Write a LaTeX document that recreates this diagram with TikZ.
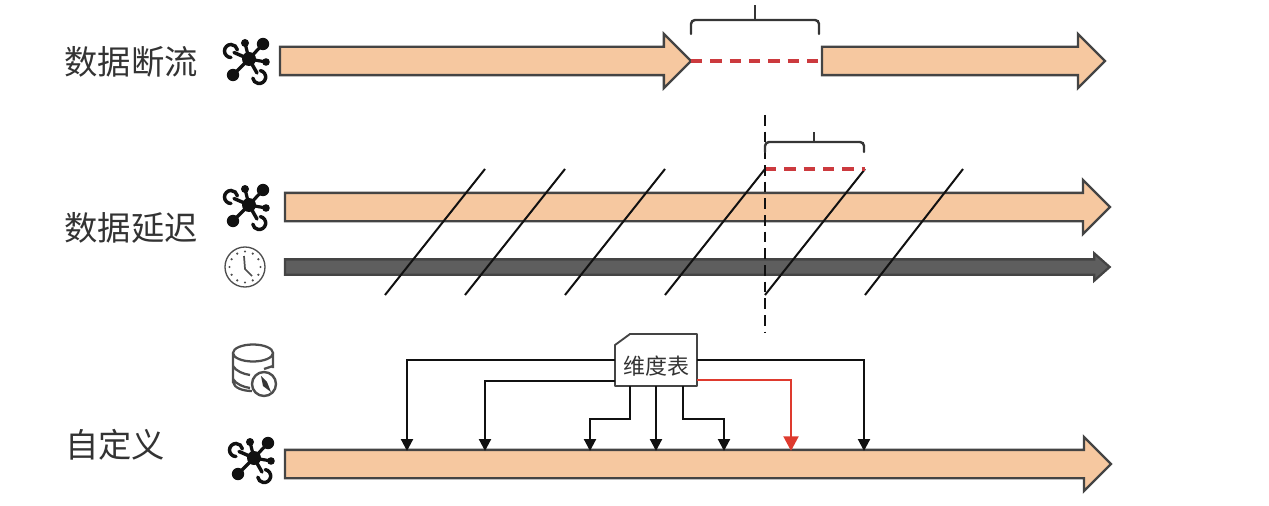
\documentclass[tikz,border=0pt]{standalone}
\usepackage{fontspec}
\newfontfamily\cjk{Noto Sans CJK SC}
\usetikzlibrary{shapes.arrows,arrows.meta,calc}
\definecolor{flowfill}{HTML}{F6C8A0}
\definecolor{flowedge}{HTML}{444444}
\definecolor{darkfill}{HTML}{5E5E5E}
\definecolor{alert}{HTML}{CC3A3E}
\definecolor{lookup}{HTML}{DE3A2E}
\definecolor{ink}{HTML}{111111}
\definecolor{labeltext}{HTML}{333333}
\definecolor{iconline}{HTML}{4E4E4E}
\tikzset{
  flow/.style={single arrow, draw=flowedge, fill=flowfill, line width=1.7pt, anchor=tail,
    inner xsep=0pt, inner ysep=9.75pt, outer sep=0pt,
    single arrow head extend=9.75pt, single arrow tip angle=90, single arrow head indent=0pt},
  clockflow/.style={flow, fill=darkfill, inner ysep=4.875pt, single arrow head extend=4.5pt,
    single arrow tip angle=83},
  rowlabel/.style={font=\cjk\fontsize{25pt}{27pt}\selectfont, text=labeltext, inner sep=0pt},
  brace/.style={draw=ink!85, line width=1.8pt, rounded corners=3pt, line cap=round},
  bracetick/.style={draw=ink!85, line width=2pt},
  gap/.style={draw=alert, line width=2.6pt, dash pattern=on 8.5pt off 6pt},
  slash/.style={draw=ink, line width=1.5pt},
  link/.style={draw=ink, line width=1.6pt, -{Triangle[width=9pt,length=9pt]}},
  redlink/.style={draw=lookup, line width=2.2pt, -{Triangle[width=11pt,length=11pt]}},
  dimbox/.style={rectangle, minimum width=61.5pt, minimum height=39pt, inner sep=0pt, outer sep=0pt,
    font=\cjk\fontsize{16.5pt}{18pt}\selectfont, text=labeltext},
  dimedge/.style={draw=flowedge, line width=1.4pt, line join=round},
  pics/hub/.style={code={
    \fill[ink] (0,0) circle (7);
    \draw[ink, line width=2.4pt]
      (0,0) -- (-4,-16) (0,0) -- (14,-15) (0,0) -- (17,3) (0,0) -- (-16,16);
    \fill[ink] (-4,-16) circle (4) (14,-15) circle (6.2) (17,3) circle (3.8) (-16,16) circle (6.2);
    \draw[ink, line width=2.6pt, line cap=round]
      (0,0) -- (-15,-6.5)
      (-18,-1.5) arc[start angle=90, end angle=350, radius=6.5]
      (0,0) -- (8,14)
      (11.3,11.6) arc[start angle=280, end angle=530, radius=6.5];
  }}
}
\begin{document}
\begin{tikzpicture}[x=0.75pt,y=-0.75pt]
\useasboundingbox (0,0) rectangle (1269,506);

% row labels
\node[rowlabel] (lbl1) at (131,62) {数据断流};
\node[rowlabel] (lbl2) at (131,228) {数据延迟};
\node[rowlabel] (lbl3) at (115,445) {自定义};

% source icons
\pic at (249,59) {hub};
\pic at (249,205) {hub};
\pic at (254,458) {hub};

% clock
\draw[iconline, line width=1pt] (245,267) circle (20);
\foreach \a in {0,30,...,330}
  \fill[iconline] (245,267) ++(\a:15.5) circle (1.2);
\draw[iconline, line width=1.3pt] (244,256) -- (245,269) -- (252,276);

% database with compass badge
\draw[iconline, line width=1.7pt]
  (253,353) ellipse [x radius=20, y radius=8.5]
  (233,353) -- (233,382) .. controls (234,388) and (243,391) .. (252,391)
  (273,353) -- (273,368)
  (233,366) .. controls (236,371) and (243,374) .. (250,375)
  (233,379) .. controls (236,384) and (243,387) .. (250,388)
  (264,369) -- (273,366);
\draw[iconline, fill=white, line width=1.8pt] (264,384) circle (12);
\fill[ink!85] (261,376) -- (267,382) -- (271,392) -- (263,386) -- cycle;

% interrupted stream
\node[flow, minimum height=308.25pt] (a1) at (280,61) {};
\node[flow, minimum height=212.25pt] (a2) at (822,61) {};
\draw[gap] (a1.tip) -- (a2.tail);
\coordinate (b1l) at (691,34);
\coordinate (b1r) at (819,34);
\coordinate (b1c) at (755,20);
\draw[brace] (b1l) -- (691,20) -- (819,20) -- (b1r);
\draw[bracetick] (b1c) -- +(0,-15);

% delayed stream and its clock line
\node[flow, minimum height=618.75pt] (a3) at (285,207) {};
\node[clockflow, minimum height=618.5pt] (a4) at (285,267) {};
\foreach \xa/\xb in {385/485,465/565,565/665,665/765,765/865,865/963}
  \draw[slash] (\xa,295) -- (\xb,169);
\coordinate (lateStart) at (765,169);
\coordinate (lateEnd) at (865,169);
\draw[gap, line width=2.4pt] (lateStart) -- (lateEnd);
\coordinate (mTop) at (765,115);
\coordinate (mBot) at (765,332);
\draw[draw=ink, line width=1.8pt, dash pattern=on 8pt off 4.5pt] (mTop) -- (mBot);
\coordinate (b2l) at (765,152);
\coordinate (b2r) at (864,152);
\coordinate (b2c) at (814,142);
\draw[brace] (b2l) -- (765,142) -- (864,142) -- (b2r);
\draw[bracetick] (b2c) -- +(0,-10);

% custom rule stream with dimension table lookups
\node[flow, minimum height=619.5pt] (a5) at (285,464) {};
\node[dimbox] (dim) at (656,360) {\raisebox{-10.5pt}[0pt][0pt]{\makebox[0pt]{维度表}}};
\draw[dimedge] (dim.south west) -- (dim.south east) -- (dim.north east)
  -- ([xshift=11.25pt]dim.north west) -- ([yshift=-8.25pt]dim.north west) -- cycle;
\coordinate (t1) at (407,451);
\coordinate (t2) at (485,451);
\coordinate (t3) at (590,451);
\coordinate (t4) at (656,451);
\coordinate (t5) at (724,451);
\coordinate (t6) at (791,451);
\coordinate (t7) at (864,451);
\draw[link] (dim.west) -| (t1);
\draw[link] (615,381) -| (t2);
\draw[link] (630,0 |- dim.south) -- (630,419) -| (t3);
\draw[link] (t4 |- dim.south) -- (t4);
\draw[link] (683,0 |- dim.south) -- (683,419) -| (t5);
\draw[redlink] (697,380) -| (t6);
\draw[link] (dim.east) -| (t7);
\end{tikzpicture}
\end{document}
